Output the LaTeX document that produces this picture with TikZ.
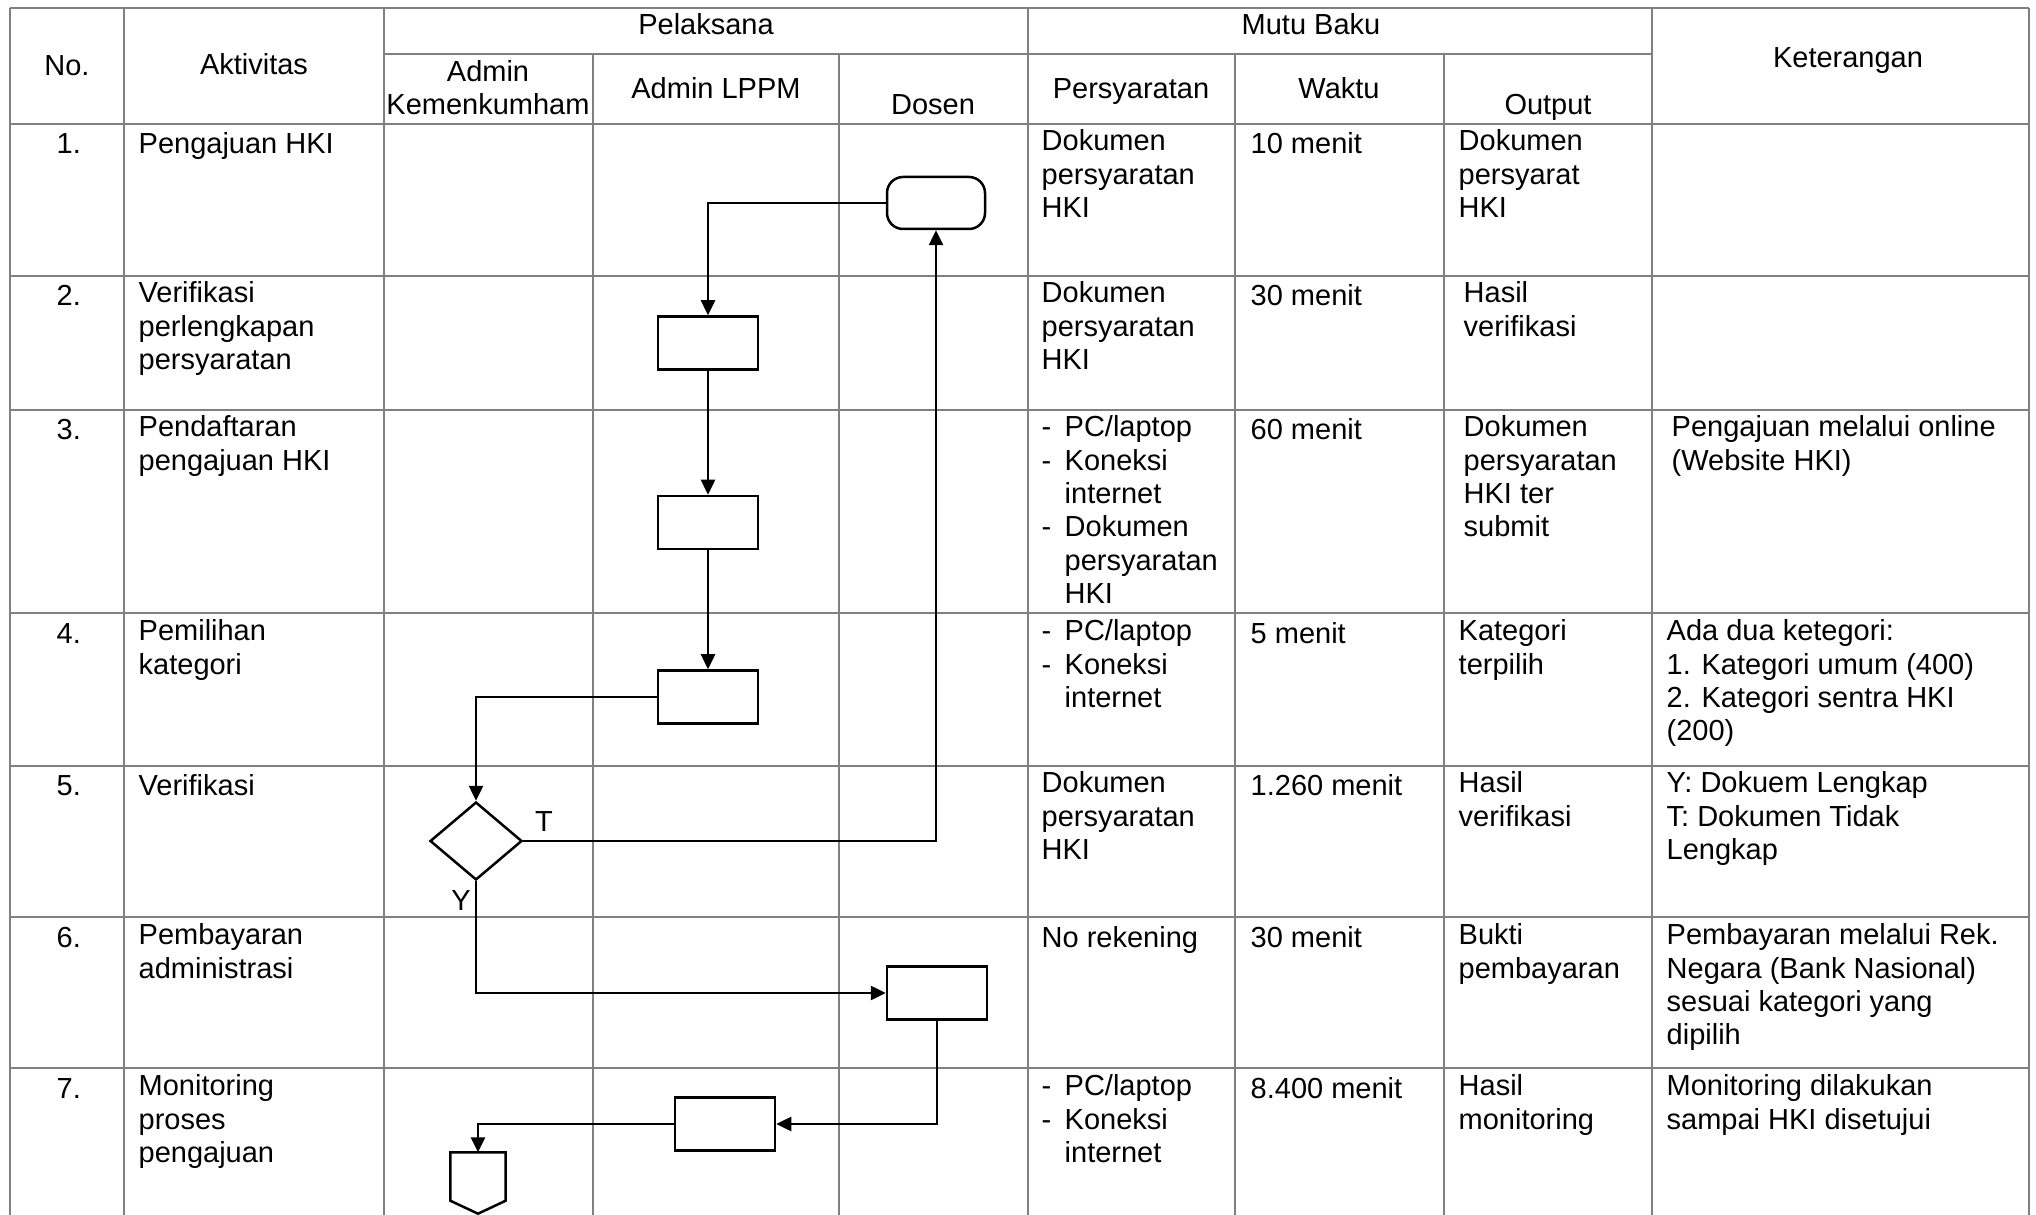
\documentclass[tikz,border=0pt]{standalone}
\usepackage{fontspec}
\setmainfont{Liberation Sans}
\usetikzlibrary{arrows.meta,positioning,shapes.geometric}
\definecolor{Grid}{HTML}{808080}
\newcommand{\dsh}{\makebox[2.3mm][l]{-}}
\newcommand{\dgap}{\hspace*{2.3mm}}

\begin{document}
\begin{tikzpicture}[x=0.1mm,y=-0.1mm,
    font=\fontsize{8.25}{9.5}\selectfont,
    grid/.style={draw=Grid,line width=0.16mm},
    head/.style={anchor=base,align=center,inner sep=0pt},
    txt/.style={anchor=north west,align=left,inner sep=0pt,execute at begin node=\strut},
    proc/.style={draw,line width=0.25mm,minimum width=10mm,minimum height=5.3mm,inner sep=0pt},
    term/.style={draw,line width=0.25mm,rounded corners=1.6mm,minimum width=9.8mm,minimum height=5.2mm,inner sep=0pt},
    dec/.style={diamond,draw,line width=0.25mm,minimum width=9.2mm,minimum height=7.8mm,inner sep=0pt},
    offpage/.style={minimum width=5.4mm,minimum height=6mm,inner sep=0pt},
    arr/.style={-{Triangle[length=1.5mm,width=1.4mm]},line width=0.25mm}
  ]
  \useasboundingbox (0,0) rectangle (2036,1215);

  % table grid
  \draw[grid] (10,8) -- (2029,8);
  \draw[grid] (384,54) -- (1652,54);
  \foreach \yy in {124,276,410,613,766,917,1068}\draw[grid] (10,\yy) -- (2029,\yy);
  \foreach \xx in {10,124,384,1028,1652,2029}\draw[grid] (\xx,8) -- (\xx,1215);
  \foreach \xx in {593,839,1235,1444}\draw[grid] (\xx,54) -- (\xx,1215);

  % header
  \node[head] (hno) at (67,76) {No.};
  \node[head] (hakt) at (254,75) {Aktivitas};
  \node[head] (hpel) at (706,35) {Pelaksana};
  \node[head] (hkem) at (488,115) {Admin\\Kemenkumham};
  \node[head] (hlppm) at (716,99) {Admin LPPM};
  \node[head] (hdos) at (933,115) {Dosen};
  \node[head] (hmutu) at (1311,35) {Mutu Baku};
  \node[head] (hpers) at (1131,99) {Persyaratan};
  \node[head] (hwak) at (1339,99) {Waktu};
  \node[head] (hout) at (1548,115) {Output};
  \node[head] (hket) at (1848,68) {Keterangan};

  % row 1
  \node[txt] (n1) at (56,129) {1.};
  \node[txt] (a1) at (138,129) {Pengajuan HKI};
  \node[txt] (p1) at (1041,129) {Dokumen\\persyaratan\\HKI};
  \node[txt] (w1) at (1250,129) {10 menit};
  \node[txt] (o1) at (1458,129) {Dokumen\\persyarat\\HKI};
  % row 2
  \node[txt] (n2) at (56,281) {2.};
  \node[txt] (a2) at (138,281) {Verifikasi\\perlengkapan\\persyaratan};
  \node[txt] (p2) at (1041,281) {Dokumen\\persyaratan\\HKI};
  \node[txt] (w2) at (1250,281) {30 menit};
  \node[txt] (o2) at (1463,281) {Hasil\\verifikasi};
  % row 3
  \node[txt] (n3) at (56,415) {3.};
  \node[txt] (a3) at (138,415) {Pendaftaran\\pengajuan HKI};
  \node[txt] (p3) at (1041,415) {\dsh PC/laptop\\\dsh Koneksi\\\dgap internet\\\dsh Dokumen\\\dgap persyaratan\\\dgap HKI};
  \node[txt] (w3) at (1250,415) {60 menit};
  \node[txt] (o3) at (1463,415) {Dokumen\\persyaratan\\HKI ter\\submit};
  \node[txt] (k3) at (1671,415) {Pengajuan melalui online\\(Website HKI)};
  % row 4
  \node[txt] (n4) at (56,619) {4.};
  \node[txt] (a4) at (138,619) {Pemilihan\\kategori};
  \node[txt] (p4) at (1041,619) {\dsh PC/laptop\\\dsh Koneksi\\\dgap internet};
  \node[txt] (w4) at (1250,619) {5 menit};
  \node[txt] (o4) at (1458,619) {Kategori\\terpilih};
  \node[txt] (k4) at (1666,619) {Ada dua ketegori:\\1. Kategori umum (400)\\2. Kategori sentra HKI\\(200)};
  % row 5
  \node[txt] (n5) at (56,771) {5.};
  \node[txt] (a5) at (138,771) {Verifikasi};
  \node[txt] (p5) at (1041,771) {Dokumen\\persyaratan\\HKI};
  \node[txt] (w5) at (1250,771) {1.260 menit};
  \node[txt] (o5) at (1458,771) {Hasil\\verifikasi};
  \node[txt] (k5) at (1666,771) {Y: Dokuem Lengkap\\T: Dokumen Tidak\\Lengkap};
  % row 6
  \node[txt] (n6) at (56,923) {6.};
  \node[txt] (a6) at (138,923) {Pembayaran\\administrasi};
  \node[txt] (p6) at (1041,923) {No rekening};
  \node[txt] (w6) at (1250,923) {30 menit};
  \node[txt] (o6) at (1458,923) {Bukti\\pembayaran};
  \node[txt] (k6) at (1666,923) {Pembayaran melalui Rek.\\Negara (Bank Nasional)\\sesuai kategori yang\\dipilih};
  % row 7
  \node[txt] (n7) at (56,1074) {7.};
  \node[txt] (a7) at (138,1074) {Monitoring\\proses\\pengajuan};
  \node[txt] (p7) at (1041,1074) {\dsh PC/laptop\\\dsh Koneksi\\\dgap internet};
  \node[txt] (w7) at (1250,1074) {8.400 menit};
  \node[txt] (o7) at (1458,1074) {Hasil\\monitoring};
  \node[txt] (k7) at (1666,1074) {Monitoring dilakukan\\sampai HKI disetujui};

  % flow
  \node[term] (start) at (936,203) {};
  \node[proc] (box1) at (708,343) {};
  \node[proc,below=12.4mm of box1] (box2) {};
  \node[proc,below=11.9mm of box2] (box3) {};
  \node[dec] (check) at (476,841) {};
  \node[proc] (box4) at (937,993) {};
  \node[proc] (box5) at (725,1124) {};
  \node[offpage] (off) at (478,1183) {};
  \draw[line width=0.25mm] (off.north west) -- (off.north east) -- ([yshift=1.3mm]off.south east)
    -- (off.south) -- ([yshift=1.3mm]off.south west) -- cycle;
  \node[anchor=base,inner sep=0pt] (lblT) at (544,832) {T};
  \node[anchor=base,inner sep=0pt] (lblY) at (461,910) {Y};

  \draw[arr] (start.west) -| (box1.north);
  \draw[arr] (box1) -- (box2);
  \draw[arr] (box2) -- (box3);
  \draw[arr] (box3.west) -| (check.north);
  \draw[arr] (check.east) -| (start.south);
  \draw[arr] (check.south) |- (box4.west);
  \draw[arr] (box4.south) |- (box5.east);
  \draw[arr] (box5.west) -| (off.north);
\end{tikzpicture}
\end{document}
